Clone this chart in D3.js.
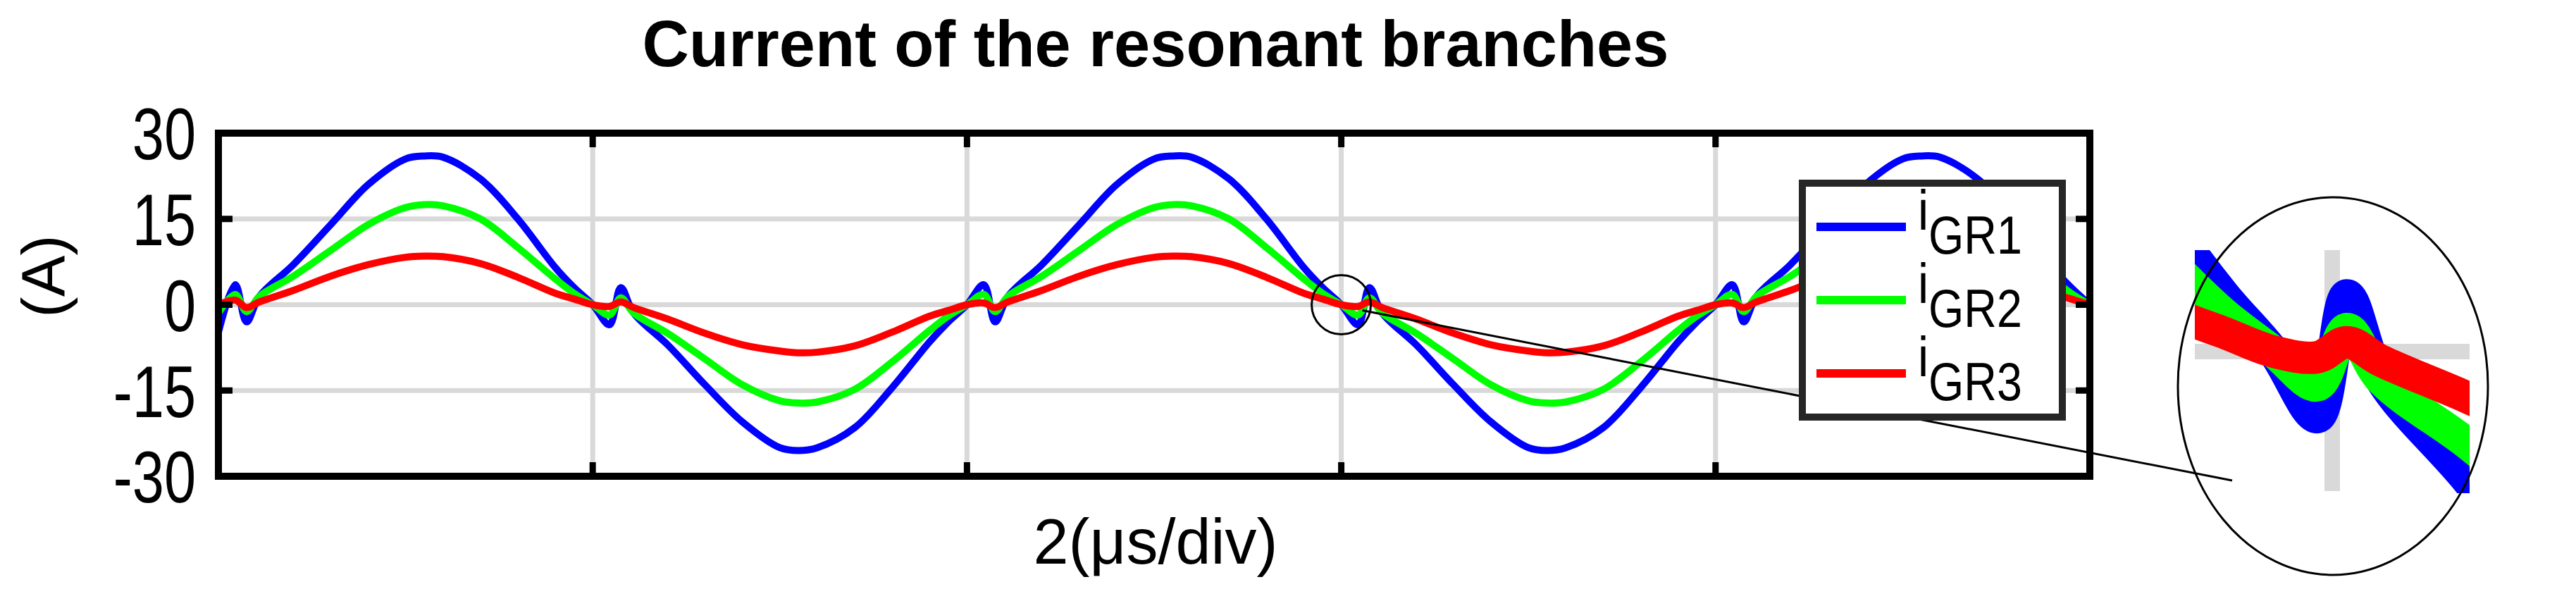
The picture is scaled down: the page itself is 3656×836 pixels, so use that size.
<!DOCTYPE html>
<html><head><meta charset="utf-8">
<script src="https://cdn.jsdelivr.net/npm/d3@7"></script>
<style>body{margin:0;background:#fff}svg{display:block}</style>
</head><body><svg id="chart" width="3656" height="836"></svg>
<script>
// time in divisions (2 us/div), values in A
const time = [
  0, 0.045, 0.075, 0.11, 0.2, 0.3, 0.4, 0.5, 0.55, 0.6, 0.7, 0.8, 0.9, 0.95,
  1, 1.045, 1.075, 1.11, 1.2, 1.3, 1.4, 1.5, 1.55, 1.6, 1.7, 1.8, 1.9, 1.95,
  2, 2.045, 2.075, 2.11, 2.2, 2.3, 2.4, 2.5, 2.55, 2.6, 2.7, 2.8, 2.9, 2.95,
  3, 3.045, 3.075, 3.11, 3.2, 3.3, 3.4, 3.5, 3.55, 3.6, 3.7, 3.8, 3.9, 3.95,
  4, 4.045, 4.075, 4.11, 4.2, 4.3, 4.4, 4.5, 4.55, 4.6, 4.7, 4.8, 4.9, 4.95, 5
];
const iGR1 = [
  -4.8, 3.5, -3, 1.5, 7, 14, 21, 25.5, 26, 25.8, 22, 15, 6.5, 3,
  0, -3.5, 3, -1.5, -7, -14, -20.5, -25, -25.5, -25, -21.5, -14.5, -6.5, -3,
  0, 3.5, -3, 1.5, 7, 14, 21, 25.5, 26, 25.8, 22, 15, 6.5, 3,
  0, -3.5, 3, -1.5, -7, -14, -20.5, -25, -25.5, -25, -21.5, -14.5, -6.5, -3,
  0, 3.5, -3, 1.5, 7, 14, 21, 25.5, 26, 25.8, 22, 15, 6.5, 3, 0
];
const iGR2 = [
  -1.5, 1.8, -1.2, 1.5, 5, 9.5, 14, 17, 17.5, 17.3, 15, 10, 4.5, 2,
  0, -1.8, 1.2, -1.5, -5, -9.5, -14, -16.8, -17.2, -17, -14.8, -10, -4.5, -2,
  0, 1.8, -1.2, 1.5, 5, 9.5, 14, 17, 17.5, 17.3, 15, 10, 4.5, 2,
  0, -1.8, 1.2, -1.5, -5, -9.5, -14, -16.8, -17.2, -17, -14.8, -10, -4.5, -2,
  0, 1.8, -1.2, 1.5, 5, 9.5, 14, 17, 17.5, 17.3, 15, 10, 4.5, 2, 0
];
const iGR3 = [
  0, 0.8, -0.5, 0.5, 2.5, 5, 7, 8.3, 8.5, 8.4, 7.2, 4.8, 2, 1,
  0, -0.3, 0.5, -0.5, -2.5, -5, -7, -8.1, -8.4, -8.3, -7.2, -4.8, -2, -1,
  0, 0.3, -0.5, 0.5, 2.5, 5, 7, 8.3, 8.5, 8.4, 7.2, 4.8, 2, 1,
  0, -0.3, 0.5, -0.5, -2.5, -5, -7, -8.1, -8.4, -8.3, -7.2, -4.8, -2, -1,
  0, 0.3, -0.5, 0.5, 2.5, 5, 7, 8.3, 8.5, 8.4, 7.2, 4.8, 2, 1, 0
];
const seriesNames = ['GR1', 'GR2', 'GR3'];
const seriesColors = ['#0000ff', '#00ff00', '#ff0000'];
const yTicks = [-30, -15, 0, 15, 30];
const xTicks = [0, 1, 2, 3, 4, 5];

const svg = d3.select('#chart');
const font = 'Liberation Sans, Arial, sans-serif';
const m = { left: 310, right: 2966, top: 189, bottom: 676 };
const x = d3.scaleLinear().domain([0, 5]).range([m.left, m.right]);
const y = d3.scaleLinear().domain([-30, 30]).range([m.bottom, m.top]);
const series = [iGR1, iGR2, iGR3].map(vals => vals.map((v, i) => [time[i], v]));

svg.append('defs').append('clipPath').attr('id', 'plotclip')
  .append('rect').attr('x', m.left).attr('y', m.top)
  .attr('width', m.right - m.left).attr('height', m.bottom - m.top);

// grid
const grid = svg.append('g').attr('stroke', '#d9d9d9').attr('stroke-width', 7);
grid.selectAll('.gx').data(xTicks.slice(1, -1)).enter().append('line')
  .attr('x1', d => x(d)).attr('x2', d => x(d)).attr('y1', m.top).attr('y2', m.bottom);
grid.selectAll('.gy').data(yTicks.slice(1, -1)).enter().append('line')
  .attr('y1', d => y(d)).attr('y2', d => y(d)).attr('x1', m.left).attr('x2', m.right);

// curves
const line = d3.line().x(d => x(d[0])).y(d => y(d[1])).curve(d3.curveCatmullRom);
svg.append('g').attr('clip-path', 'url(#plotclip)')
  .selectAll('path').data(series).enter().append('path')
  .attr('d', line).attr('fill', 'none')
  .attr('stroke', (d, i) => seriesColors[i]).attr('stroke-width', 10)
  .attr('stroke-linejoin', 'round');

// ticks
const tk = svg.append('g').attr('stroke', '#000').attr('stroke-width', 9);
xTicks.slice(1, -1).forEach(t => {
  tk.append('line').attr('x1', x(t)).attr('x2', x(t)).attr('y1', m.top).attr('y2', m.top + 20);
  tk.append('line').attr('x1', x(t)).attr('x2', x(t)).attr('y1', m.bottom).attr('y2', m.bottom - 20);
});
yTicks.slice(1, -1).forEach(t => {
  tk.append('line').attr('y1', y(t)).attr('y2', y(t)).attr('x1', m.left).attr('x2', m.left + 20);
  tk.append('line').attr('y1', y(t)).attr('y2', y(t)).attr('x1', m.right).attr('x2', m.right - 20);
});
svg.append('rect').attr('x', m.left).attr('y', m.top)
  .attr('width', m.right - m.left).attr('height', m.bottom - m.top)
  .attr('fill', 'none').attr('stroke', '#000').attr('stroke-width', 10);

// narrow tick labels (condensed like the original)
svg.selectAll('.yl').data(yTicks).enter().append('text')
  .attr('transform', d => `translate(${m.left - 32},${y(d)}) scale(0.78,1)`)
  .attr('dy', '0.36em')
  .attr('text-anchor', 'end').attr('font-family', font).attr('font-size', 104)
  .text(d => d);

svg.append('text').attr('x', 1640).attr('y', 94).attr('text-anchor', 'middle')
  .attr('font-family', font).attr('font-weight', 'bold').attr('font-size', 92)
  .text('Current of the resonant branches');
svg.append('text').attr('x', 1640).attr('y', 800).attr('text-anchor', 'middle')
  .attr('font-family', font).attr('font-size', 90).text('2(\u03bcs/div)');
svg.append('text').attr('transform', 'translate(92,392) rotate(-90)')
  .attr('text-anchor', 'middle').attr('font-family', font).attr('font-size', 88).text('(A)');

// zoom marker and inset
const cx = x(3), cy = y(0);
svg.append('circle').attr('cx', cx).attr('cy', cy).attr('r', 42)
  .attr('fill', 'none').attr('stroke', '#000').attr('stroke-width', 3);
const ell = { cx: 3311, cy: 548, rx: 220, ry: 268 };
svg.append('line').attr('x1', cx + 30).attr('y1', cy + 8).attr('x2', 3168).attr('y2', 682)
  .attr('stroke', '#000').attr('stroke-width', 3);

const ix = d3.scaleLinear().domain([2.92, 3.2]).range([3115, 3505]);
const iy = d3.scaleLinear().domain([-6.5, 6.5]).range([672, 326]);
svg.select('defs').append('clipPath').attr('id', 'insetclip')
  .append('rect').attr('x', 3115).attr('y', 355).attr('width', 390).attr('height', 345);
const inset = svg.append('g').attr('clip-path', 'url(#insetclip)');
inset.append('line').attr('x1', ix(3.06)).attr('x2', ix(3.06)).attr('y1', 355).attr('y2', 697)
  .attr('stroke', '#d9d9d9').attr('stroke-width', 22);
inset.append('line').attr('x1', 3115).attr('x2', 3505).attr('y1', iy(0)).attr('y2', iy(0))
  .attr('stroke', '#d9d9d9').attr('stroke-width', 22);
const iline = d3.line().x(d => ix(d[0])).y(d => iy(d[1])).curve(d3.curveCatmullRom);
inset.selectAll('path').data(series).enter().append('path')
  .attr('d', iline).attr('fill', 'none')
  .attr('stroke', (d, i) => seriesColors[i]).attr('stroke-width', 46);
svg.append('ellipse').attr('cx', ell.cx).attr('cy', ell.cy).attr('rx', ell.rx).attr('ry', ell.ry)
  .attr('fill', 'none').attr('stroke', '#000').attr('stroke-width', 3);

// legend
const lg = svg.append('g');
lg.append('rect').attr('x', 2558).attr('y', 260).attr('width', 369).attr('height', 332)
  .attr('fill', '#fff').attr('stroke', '#262626').attr('stroke-width', 10);
seriesNames.forEach((n, i) => {
  const ly = 322 + i * 104;
  lg.append('line').attr('x1', 2578).attr('x2', 2705).attr('y1', ly).attr('y2', ly)
    .attr('stroke', seriesColors[i]).attr('stroke-width', 12);
  const t = lg.append('text').attr('transform', `translate(2722,${ly + 4}) scale(0.85,1)`)
    .attr('font-family', font).attr('font-size', 80);
  t.append('tspan').text('i');
  t.append('tspan').attr('dy', 34).attr('font-size', 76).text(n);
});
</script></body></html>
